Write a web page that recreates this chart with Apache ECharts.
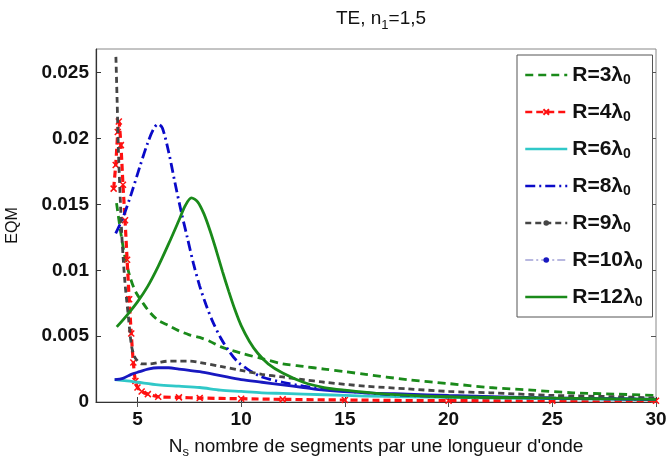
<!DOCTYPE html>
<html>
<head>
<meta charset="utf-8">
<script src="https://cdn.jsdelivr.net/npm/echarts@6/dist/echarts.min.js"></script>
<style>html,body{margin:0;padding:0;background:#fff}#c{width:668px;height:457px}</style>
</head>
<body>
<div id="c"></div>
<script>
// ---- Data ----
const seriesNames = ['R=3λ', 'R=4λ', 'R=6λ', 'R=8λ', 'R=9λ', 'R=10λ', 'R=12λ'];
const xTicks = [5, 10, 15, 20, 25, 30];
const yTicks = [0, 0.005, 0.01, 0.015, 0.02, 0.025];

const xR3 = [3.99, 4.2, 4.4, 4.64, 4.9, 5.27, 5.6, 6, 6.5, 7, 7.5, 8, 8.5, 9, 10, 11, 12, 13, 14, 15, 16, 18, 20, 22, 24, 26, 28, 30];
const yR3 = [0.0151, 0.0128, 0.011, 0.0095, 0.0084, 0.0075, 0.0068, 0.0062, 0.0058, 0.0054, 0.0051, 0.0049, 0.0046, 0.0042, 0.0037, 0.0033, 0.0029, 0.0027, 0.0025, 0.0023, 0.0021, 0.0017, 0.0014, 0.0011, 0.0009, 0.0007, 0.0006, 0.0005];

const xR4 = [3.85, 3.95, 4.05, 4.1, 4.2, 4.3, 4.4, 4.5, 4.6, 4.7, 4.8, 4.9, 5.0, 5.2, 5.5, 6, 7, 8, 10, 12, 15, 20, 25, 30];
const yR4 = [0.0162, 0.018, 0.0205, 0.0213, 0.0195, 0.0165, 0.0138, 0.0108, 0.0078, 0.0052, 0.003, 0.0016, 0.0011, 0.0008, 0.0006, 0.0004, 0.00035, 0.0003, 0.00025, 0.0002, 0.00015, 0.0001, 0.0001, 0.0001];

const xR6 = [3.9, 4.5, 5, 6, 7, 8, 9, 10, 11, 12, 14, 16, 18, 20, 25, 30];
const yR6 = [0.0017, 0.0016, 0.0015, 0.0013, 0.0012, 0.0011, 0.0009, 0.0008, 0.0007, 0.00065, 0.00055, 0.00045, 0.0004, 0.00035, 0.00025, 0.0002];

const xR8 = [3.95, 4.3, 4.7, 5.1, 5.5, 5.8, 6.0, 6.2, 6.5, 6.8, 7.1, 7.4, 7.7, 8.0, 8.3, 8.6, 9.0, 9.4, 9.8, 10.3, 11, 12, 13, 14, 16, 18, 20, 25, 30];
const yR8 = [0.0128, 0.014, 0.0158, 0.0178, 0.0197, 0.0208, 0.0211, 0.0208, 0.019, 0.0167, 0.0145, 0.0125, 0.0105, 0.0088, 0.0074, 0.0062, 0.0049, 0.0039, 0.0031, 0.0025, 0.0019, 0.0015, 0.0012, 0.001, 0.0007, 0.0005, 0.0004, 0.0003, 0.0002];

const xR9 = [3.96, 4.02, 4.08, 4.16, 4.24, 4.32, 4.4, 4.48, 4.56, 4.64, 4.72, 4.84, 4.96, 5.2, 5.6, 6, 6.5, 7, 7.5, 8, 9, 10, 11, 12, 13, 14, 16, 18, 20, 22, 25, 28, 30];
const yR9 = [0.0262, 0.0228, 0.0191, 0.0158, 0.0128, 0.0107, 0.009, 0.0077, 0.0065, 0.0052, 0.0042, 0.0035, 0.0032, 0.0029, 0.0029, 0.003, 0.0031, 0.0031, 0.0031, 0.003, 0.0027, 0.0024, 0.0021, 0.0019, 0.0017, 0.0015, 0.0012, 0.001, 0.0008, 0.0007, 0.0005, 0.0004, 0.0003];

const xR10 = [3.9, 4.3, 4.7, 5.1, 5.5, 6, 6.5, 7, 7.5, 8, 9, 10, 11, 12, 13, 14, 16, 18, 20, 25, 30];
const yR10 = [0.0017, 0.0018, 0.0021, 0.0023, 0.0025, 0.0026, 0.0026, 0.0025, 0.0024, 0.0023, 0.002, 0.0017, 0.0015, 0.0013, 0.0011, 0.0009, 0.0007, 0.0006, 0.0005, 0.0003, 0.0002];

const xR12 = [4.0, 4.5, 5, 5.5, 6, 6.5, 7, 7.3, 7.6, 7.9, 8.2, 8.5, 8.8, 9.1, 9.4, 9.7, 10, 10.4, 10.8, 11.3, 12, 13, 14, 15, 17, 20, 25, 30];
const yR12 = [0.0057, 0.0066, 0.0076, 0.0088, 0.0103, 0.012, 0.0138, 0.0149, 0.0155, 0.0152, 0.0143, 0.013, 0.0115, 0.0099, 0.0084, 0.007, 0.0058, 0.0046, 0.0037, 0.0029, 0.0022, 0.0015, 0.0011, 0.0009, 0.0006, 0.0004, 0.0003, 0.0002];

// ---- Chart ----
const zip = (xs, ys) => xs.map((x, i) => [x, ys[i]]);
const FONT = '"Liberation Sans", Arial, sans-serif';
const GREEN = '#1a8a1a';
const crossPath = 'path://M0,0L10,10M10,0L0,10';

const styles = [
  { x: xR3, y: yR3, color: GREEN, type: [8, 5], width: 2.8, symbol: 'none' },
  { x: xR4, y: yR4, color: '#ff1010', type: [7, 4], width: 3.2, symbol: crossPath, symbolSize: 6 },
  { x: xR6, y: yR6, color: '#30c8c8', type: 'solid', width: 2.8, symbol: 'none' },
  { x: xR8, y: yR8, color: '#0a0ac8', type: [10, 4, 2, 4], width: 2.8, symbol: 'none' },
  { x: xR9, y: yR9, color: '#454545', type: [6, 4], width: 2.8, symbol: 'none' },
  { x: xR10, y: yR10, color: '#1818c0', type: 'solid', width: 2.8, symbol: 'none' },
  { x: xR12, y: yR12, color: GREEN, type: 'solid', width: 2.8, symbol: 'none' }
];

const series = styles.map((s, i) => ({
  name: seriesNames[i],
  type: 'line',
  data: zip(s.x, s.y),
  symbol: s.symbol,
  symbolSize: s.symbolSize || 4,
  showSymbol: s.symbol !== 'none',
  smooth: 0.3,
  lineStyle: { color: s.color, type: s.type, width: s.width },
  itemStyle: { color: s.color, borderColor: s.color, borderWidth: 1.5 },
  z: 2 + i,
  animation: false
}));

const hidden = { color: 'rgba(0,0,0,0)', borderColor: 'rgba(0,0,0,0)', borderWidth: 0 };
const legendData = seriesNames.map((n, i) => {
  const s = styles[i];
  const d = { name: n, lineStyle: { color: s.color, type: s.type, width: 2.5 } };
  if (i === 1) {
    d.itemStyle = { color: s.color, borderColor: s.color, borderWidth: 2 };
  } else if (i === 4) {
    d.itemStyle = { color: '#454545', borderColor: '#454545', borderWidth: 0 };
  } else if (i === 5) {
    d.lineStyle = { color: '#b8b8e0', type: [8, 3, 2, 3], width: 2 };
    d.itemStyle = { color: '#1818c0', borderColor: '#1818c0', borderWidth: 0 };
  } else {
    d.itemStyle = hidden;
  }
  return d;
});

const chart = echarts.init(document.getElementById('c'), null, { renderer: 'canvas' });
chart.setOption({
  backgroundColor: '#fff',
  animation: false,
  title: {
    text: '{a|TE, n}{s|1}{a|=1,5}',
    left: 376,
    top: 1,
    textAlign: 'center',
    textStyle: {
      fontWeight: 'normal',
      rich: {
        a: { fontFamily: FONT, fontSize: 19, fontWeight: 'normal', color: '#111', lineHeight: 26, verticalAlign: 'middle' },
        s: { fontFamily: FONT, fontSize: 13, fontWeight: 'normal', color: '#111', lineHeight: 26, verticalAlign: 'bottom', padding: [10, 0, 0, 0] }
      }
    }
  },
  grid: { left: 96, right: 12, top: 49, bottom: 55, outerBoundsMode: 'none', containLabel: false, show: true, borderColor: '#888', borderWidth: 1, backgroundColor: '#fff' },
  legend: {
    orient: 'vertical',
    left: 517,
    top: 55,
    padding: [8, 10, 8, 7],
    itemGap: 13,
    itemWidth: 42,
    itemHeight: 7,
    backgroundColor: '#fff',
    borderColor: '#555',
    borderWidth: 1,
    data: legendData,
    formatter: n => '{b|' + n + '}{s|0}',
    textStyle: {
      rich: {
        b: { fontFamily: FONT, fontSize: 21, fontWeight: 'bold', color: '#111', lineHeight: 24, verticalAlign: 'middle' },
        s: { fontFamily: FONT, fontSize: 14, fontWeight: 'bold', color: '#111', lineHeight: 24, verticalAlign: 'bottom', padding: [10, 0, 0, 0] }
      }
    }
  },
  xAxis: [{
    type: 'value', min: 3, max: 30,
    position: 'bottom',
    axisLine: { show: true, onZero: false, lineStyle: { color: '#333', width: 1.2 } },
    axisTick: { show: true, inside: true, length: 5, customValues: xTicks, lineStyle: { color: '#333' } },
    axisLabel: { customValues: xTicks, margin: 8, fontFamily: FONT, fontSize: 19, fontWeight: 'bold', color: '#111' },
    splitLine: { show: false },
    name: '{n|N}{s|s}{n| nombre de segments par une longueur d\'onde}',
    nameLocation: 'middle',
    nameGap: 25,
    nameTextStyle: {
      rich: {
        n: { fontFamily: FONT, fontSize: 19, color: '#111', lineHeight: 24, verticalAlign: 'middle' },
        s: { fontFamily: FONT, fontSize: 13, color: '#111', lineHeight: 24, verticalAlign: 'bottom', padding: [12, 0, 0, 0] }
      }
    }
  }, {
    type: 'value', min: 3, max: 30, position: 'top',
    axisLine: { show: false },
    axisTick: { show: true, inside: true, length: 5, customValues: xTicks, lineStyle: { color: '#555' } },
    axisLabel: { show: false },
    splitLine: { show: false }
  }],
  yAxis: [{
    type: 'value', min: 0, max: 0.0268,
    position: 'left',
    axisLine: { show: true, onZero: false, lineStyle: { color: '#333', width: 1.2 } },
    axisTick: { show: true, inside: true, length: 5, customValues: yTicks, lineStyle: { color: '#333' } },
    axisLabel: { customValues: yTicks, margin: 7, fontFamily: FONT, fontSize: 19, fontWeight: 'bold', color: '#111', formatter: v => String(v) },
    splitLine: { show: false },
    name: 'EQM',
    nameLocation: 'middle',
    nameRotate: 90,
    nameGap: 75,
    nameTextStyle: { fontFamily: FONT, fontSize: 16, color: '#111' }
  }, {
    type: 'value', min: 0, max: 0.0268, position: 'right',
    axisLine: { show: false },
    axisTick: { show: true, inside: true, length: 5, customValues: yTicks, lineStyle: { color: '#555' } },
    axisLabel: { show: false },
    splitLine: { show: false }
  }],
  series: series
});
</script>
</body>
</html>
